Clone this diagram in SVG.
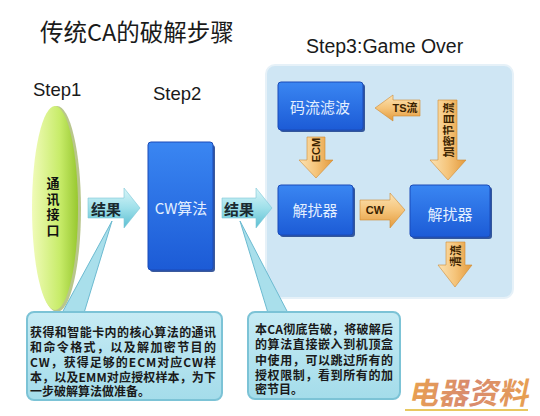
<svg xmlns="http://www.w3.org/2000/svg" width="540" height="416" viewBox="0 0 540 416">
<defs>
<style>
.t{font-family:"Liberation Sans","Noto Sans CJK SC",sans-serif}
.cjk{font-family:"Noto Sans CJK SC","Liberation Sans",sans-serif}
.step{font-size:18.5px;fill:#1a1a1a}
.box{fill:url(#gBlue);stroke:#1a4bb8;stroke-width:1}
.shadow{fill:#173d8c;opacity:0.85}
.btxt{font-size:15px;fill:#e3efff;text-anchor:middle;dominant-baseline:central}
.oarr{fill:url(#gOrange);stroke:#d08a30;stroke-width:0.6}
.oarrv{fill:url(#gOrangeV);stroke:#d08a30;stroke-width:0.6}
.otxt{font-size:11px;fill:#3a2200;font-weight:bold;text-anchor:middle;dominant-baseline:central}
.carr{fill:url(#gCyan);stroke:#7cc6d6;stroke-width:0.6}
.ctxt{font-size:15px;fill:#1a2a30;font-weight:bold;text-anchor:middle;dominant-baseline:central}
.call{fill:url(#gCall);stroke:#7cc3d6;stroke-width:2}
.tail{fill:#a9dfeb;stroke:#6cbad0;stroke-width:1}
.ltxt{font-size:12px;fill:#1a1a1a;font-weight:bold}
</style>
<linearGradient id="gBlue" x1="0" y1="0" x2="0" y2="1">
<stop offset="0" stop-color="#3a86f2"/>
<stop offset="1" stop-color="#1c5bd6"/>
</linearGradient>
<linearGradient id="gOrange" x1="0" y1="0" x2="0" y2="1">
<stop offset="0" stop-color="#fbe3b4"/>
<stop offset="0.5" stop-color="#f5c47a"/>
<stop offset="1" stop-color="#e39a3c"/>
</linearGradient>
<linearGradient id="gOrangeV" x1="0" y1="0" x2="1" y2="0">
<stop offset="0" stop-color="#fbe3b4"/>
<stop offset="0.5" stop-color="#f5c47a"/>
<stop offset="1" stop-color="#e39a3c"/>
</linearGradient>
<linearGradient id="gCyan" x1="0" y1="0" x2="0" y2="1">
<stop offset="0" stop-color="#d8f5f8"/>
<stop offset="0.5" stop-color="#9fe0ea"/>
<stop offset="1" stop-color="#5cbfd2"/>
</linearGradient>
<linearGradient id="gCall" x1="0" y1="0" x2="0" y2="1">
<stop offset="0" stop-color="#c6ebf4"/>
<stop offset="1" stop-color="#a4dcea"/>
</linearGradient>
<linearGradient id="gGreen" x1="0" y1="0" x2="1" y2="0">
<stop offset="0" stop-color="#f0fbb8"/>
<stop offset="0.6" stop-color="#c8ec6a"/>
<stop offset="1" stop-color="#98c830"/>
</linearGradient>
<linearGradient id="gWm" x1="0" y1="0" x2="1" y2="0">
<stop offset="0" stop-color="#e8a050"/>
<stop offset="0.5" stop-color="#d88a70"/>
<stop offset="1" stop-color="#e8a050"/>
</linearGradient>
</defs>
<rect x="0" y="0" width="540" height="416" fill="#ffffff"/>

<text class="cjk" x="40" y="41" font-size="23.5" fill="#1a1a1a">传统CA的破解步骤</text>
<text class="t step" x="33" y="96">Step1</text>
<text class="t step" x="153" y="100">Step2</text>
<text class="t" x="306" y="53" font-size="19.5" fill="#1a1a1a">Step3:Game Over</text>

<g id="panel">
<rect x="266" y="65" width="247" height="233" rx="9" fill="#cfe6f4" stroke="#e6f1f8" stroke-width="2"/>
</g>

<g id="connectors">
<polygon class="tail" points="112,221 62,313 84,313"/>
<polygon class="tail" points="240,221 268,313 288,313"/>
<path class="carr" d="M88,198 H124 V188 L140,208 L124,228 V218 H88 Z"/>
<text class="cjk ctxt" x="106" y="208">结果</text>
<path class="carr" d="M222,198 H256 V188 L272,208 L256,228 V218 H222 Z"/>
<text class="cjk ctxt" x="239" y="208">结果</text>
<path class="oarr" d="M420,100 H393 V95 L375,108 L393,121 V116 H420 Z"/>
<text class="t otxt" x="405" y="108">TS流</text>
<path class="oarrv" d="M438,100 H457 V160 H466 L448,180 L430,160 H438 Z"/>
<text class="cjk otxt" transform="translate(448,130) rotate(-90)">加密节目流</text>
<path class="oarrv" d="M307,137 H325 V160 H333 L316,178 L299,160 H307 Z"/>
<text class="t otxt" font-size="10" transform="translate(316,150) rotate(-90)">ECM</text>
<path class="oarr" d="M360,200 H390 V193 L405,210 L390,228 V220 H360 Z"/>
<text class="t otxt" font-size="12" font-weight="normal" x="375" y="210">CW</text>
<path class="oarrv" d="M446,242 H465 V265 H472 L455,287 L438,265 H446 Z"/>
<text class="cjk otxt" transform="translate(455,256) rotate(-90)">清流</text>
</g>

<g id="n-step1">
<ellipse cx="57" cy="209" rx="24" ry="103" fill="#8aa040" opacity="0.6"/>
<ellipse cx="55" cy="208" rx="23" ry="102" fill="url(#gGreen)"/>
<text class="cjk" x="53" y="177" font-size="13" font-weight="bold" fill="#111" writing-mode="vertical-rl" letter-spacing="2.5">通讯接口</text>
</g>

<g id="n-cw">
<rect class="shadow" x="150" y="145" width="65" height="127" rx="3"/>
<rect class="box" x="148" y="142" width="65" height="128" rx="3"/>
<text class="cjk btxt" x="181" y="207">CW算法</text>
</g>

<g id="n-filter">
<rect class="shadow" x="280" y="84" width="85" height="48" rx="3"/>
<rect class="box" x="278" y="82" width="85" height="48" rx="3"/>
<text class="cjk btxt" x="320" y="106">码流滤波</text>
</g>

<g id="n-desc1">
<rect class="shadow" x="280" y="187" width="75" height="50" rx="3"/>
<rect class="box" x="278" y="185" width="75" height="50" rx="3"/>
<text class="cjk btxt" x="315" y="209">解扰器</text>
</g>

<g id="n-desc2">
<rect class="shadow" x="412" y="187" width="80" height="52" rx="3"/>
<rect class="box" x="410" y="185" width="80" height="52" rx="3"/>
<text class="cjk btxt" x="450" y="213">解扰器</text>
</g>

<g id="n-note1">
<rect class="call" x="27" y="312" width="195" height="88" rx="7"/>
<text class="cjk ltxt">
<tspan x="30" y="337" textLength="186" lengthAdjust="spacing">获得和智能卡内的核心算法的通讯</tspan>
<tspan x="30" y="352" textLength="186" lengthAdjust="spacing">和命令格式，以及解加密节目的</tspan>
<tspan x="30" y="367" textLength="186" lengthAdjust="spacing">CW，获得足够的ECM对应CW样</tspan>
<tspan x="30" y="382" textLength="186" lengthAdjust="spacing">本，以及EMM对应授权样本，为下</tspan>
<tspan x="30" y="396">一步破解算法做准备。</tspan>
</text>
</g>

<g id="n-note2">
<rect class="call" x="248" y="312" width="152" height="87" rx="7"/>
<text class="cjk ltxt">
<tspan x="255" y="334" textLength="138" lengthAdjust="spacing">本CA彻底告破，将破解后</tspan>
<tspan x="255" y="349" textLength="138" lengthAdjust="spacing">的算法直接嵌入到机顶盒</tspan>
<tspan x="255" y="365" textLength="138" lengthAdjust="spacing">中使用，可以跳过所有的</tspan>
<tspan x="255" y="380" textLength="138" lengthAdjust="spacing">授权限制，看到所有的加</tspan>
<tspan x="255" y="394">密节目。</tspan>
</text>
</g>

<g id="watermark">
<line x1="405" y1="410" x2="528" y2="410" stroke="#e8c860" stroke-width="2"/>
<text class="cjk" x="408" y="404" font-size="30" font-weight="bold" fill="url(#gWm)" transform="skewX(-12) translate(86,0)" textLength="120" lengthAdjust="spacing">电器资料</text>
</g>
</svg>
